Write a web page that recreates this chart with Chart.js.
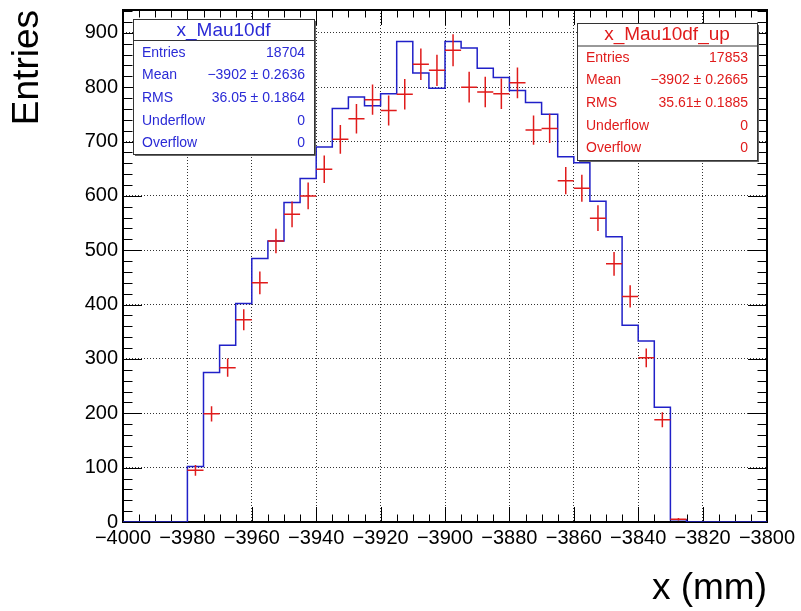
<!DOCTYPE html>
<html>
<head>
<meta charset="utf-8">
<script src="https://cdn.jsdelivr.net/npm/chart.js@4"></script>
<style>
  html, body { margin: 0; padding: 0; background: #fff; }
  #wrap { width: 801px; height: 611px; }
</style>
</head>
<body>
<div id="wrap"><canvas id="chart" width="801" height="611"></canvas></div>
<script>
// Histogram binning (5 mm bins), lower edges
const binLowEdges = [
  -4000, -3995, -3990, -3985, -3980, -3975, -3970, -3965, -3960, -3955,
  -3950, -3945, -3940, -3935, -3930, -3925, -3920, -3915, -3910, -3905,
  -3900, -3895, -3890, -3885, -3880, -3875, -3870, -3865, -3860, -3855,
  -3850, -3845, -3840, -3835, -3830, -3825, -3820, -3815, -3810, -3805
];
const binUpperEdge = -3800;

// x_Mau10df (blue outline)
const blueCounts = [
  0, 0, 0, 0, 102, 275, 325, 402, 485, 517,
  588, 632, 690, 761, 782, 766, 788, 884, 826, 798,
  884, 872, 835, 818, 794, 772, 750, 672, 661, 590,
  525, 362, 333, 211, 4, 0, 0, 0, 0, 0
];

// x_Mau10df_up (red points with errors)
const redCounts = [
  0, 0, 0, 0, 95, 199, 284, 372, 440, 517,
  566, 600, 649, 704, 742, 777, 757, 787, 842, 831,
  868, 800, 791, 788, 808, 721, 724, 628, 614, 559,
  475, 415, 302, 188, 5, 0, 0, 0, 0, 0
];

// Stats boxes
const statLabels = ['Entries', 'Mean', 'RMS', 'Underflow', 'Overflow'];
const blueStats = ['18704', '\u22123902 \u00b1 0.2636', '36.05 \u00b1 0.1864', '0', '0'];
const redStats = ['17853', '\u22123902 \u00b1 0.2665', '35.61\u00b1 0.1885', '0', '0'];

const xTitle = 'x (mm)';
const yTitle = 'Entries';

const BLUE = '#2020c8';
const BLUE_TEXT = '#2a2ad6';
const RED = '#e01b1b';
const FONT = '"Liberation Sans", Arial, Helvetica, sans-serif';

const fmtTick = (v) => (v < 0 ? '\u2212' + Math.abs(v) : String(v));

// blue histogram outline as stepped line over bin edges
const bluePoints = binLowEdges.map((x, i) => ({ x, y: blueCounts[i] }));
bluePoints.push({ x: binUpperEdge, y: 0 });

// red error crosses: horizontal = bin width, vertical = sqrt(N)
const redCross = [];
binLowEdges.forEach((lo, i) => {
  const n = redCounts[i];
  if (!n) return;
  const hi = i + 1 < binLowEdges.length ? binLowEdges[i + 1] : binUpperEdge;
  const c = (lo + hi) / 2;
  const e = Math.sqrt(n);
  redCross.push({ x: lo, y: n }, { x: hi, y: n }, { x: c, y: null });
  redCross.push({ x: c, y: n - e }, { x: c, y: n + e }, { x: c, y: null });
});

// ROOT-like frame with inward ticks on all four sides
const rootFrame = {
  id: 'rootFrame',
  beforeDatasetsDraw(chart) {
    const { ctx, chartArea: a, scales: { x, y } } = chart;
    ctx.save();
    ctx.strokeStyle = '#000';
    ctx.lineWidth = 1;
    ctx.beginPath();
    for (let v = -4000; v <= -3800; v += 5) {
      const px = Math.round(x.getPixelForValue(v)) + 0.5;
      const len = v % 20 === 0 ? 15 : 7.5;
      ctx.moveTo(px, a.bottom); ctx.lineTo(px, a.bottom - len);
      ctx.moveTo(px, a.top); ctx.lineTo(px, a.top + len);
    }
    for (let v = 0; v <= y.max; v += 20) {
      const py = Math.round(y.getPixelForValue(v)) + 0.5;
      const len = v % 100 === 0 ? 19 : 9.5;
      ctx.moveTo(a.left, py); ctx.lineTo(a.left + len, py);
      ctx.moveTo(a.right, py); ctx.lineTo(a.right - len, py);
    }
    ctx.stroke();
    ctx.lineWidth = 2;
    ctx.strokeRect(a.left, a.top, a.right - a.left, a.bottom - a.top);
    ctx.restore();
  },
  afterDraw(chart) {
    const ctx = chart.ctx;
    drawStats(ctx, { x: 133, y: 19, w: 181, h: 135, head: 21, color: BLUE_TEXT,
      title: 'x_Mau10df', values: blueStats, rowTop: 52.7 });
    drawStats(ctx, { x: 577, y: 23, w: 180, h: 137, head: 22.5, color: RED,
      title: 'x_Mau10df_up', values: redStats, rowTop: 57.7 });
  }
};

function drawStats(ctx, b) {
  ctx.save();
  ctx.fillStyle = '#666';
  ctx.fillRect(b.x + 2, b.y + 2, b.w, b.h);
  ctx.fillStyle = '#fff';
  ctx.fillRect(b.x, b.y, b.w, b.h);
  ctx.strokeStyle = '#333';
  ctx.lineWidth = 1;
  ctx.strokeRect(b.x + 0.5, b.y + 0.5, b.w, b.h);
  ctx.beginPath();
  ctx.moveTo(b.x, b.y + b.head + 0.5);
  ctx.lineTo(b.x + b.w, b.y + b.head + 0.5);
  ctx.stroke();

  ctx.fillStyle = b.color;
  ctx.textBaseline = 'middle';
  ctx.font = '19px ' + FONT;
  ctx.textAlign = 'center';
  ctx.fillText(b.title, b.x + b.w / 2, b.y + b.head / 2 + 1);

  ctx.font = '14px ' + FONT;
  statLabels.forEach((lab, i) => {
    const ty = b.rowTop + i * 22.7;
    ctx.textAlign = 'left';
    ctx.fillText(lab, b.x + 9, ty);
    ctx.textAlign = 'right';
    ctx.fillText(b.values[i], b.x + b.w - 9, ty);
  });
  ctx.restore();
}

const ctx = document.getElementById('chart').getContext('2d');
new Chart(ctx, {
  type: 'line',
  data: {
    datasets: [
      {
        label: 'x_Mau10df_up',
        data: redCross,
        borderColor: RED,
        borderWidth: 1.5,
        pointRadius: 0,
        spanGaps: false,
        fill: false
      },
      {
        label: 'x_Mau10df',
        data: bluePoints,
        borderColor: BLUE,
        borderWidth: 1.5,
        pointRadius: 0,
        stepped: 'before',
        fill: false
      }
    ]
  },
  options: {
    responsive: false,
    animation: false,
    events: [],
    layout: { padding: { top: 10, right: 34, left: 0, bottom: 0 } },
    plugins: {
      legend: { display: false },
      tooltip: { enabled: false }
    },
    scales: {
      x: {
        type: 'linear',
        min: -4000,
        max: -3800,
        ticks: {
          stepSize: 20,
          autoSkip: false,
          maxRotation: 0,
          padding: 4,
          color: '#000',
          font: { family: FONT, size: 20 },
          callback: fmtTick
        },
        grid: { color: 'rgba(0,0,0,0.8)', lineWidth: 1, drawTicks: false },
        border: { display: false, dash: [1, 2] },
        title: {
          display: true,
          text: xTitle,
          align: 'end',
          color: '#000',
          font: { family: FONT, size: 37 },
          padding: { top: 0, bottom: 0 }
        },
        afterFit: (s) => { s.height = 89; s.paddingLeft = 0; s.paddingRight = 0; }
      },
      y: {
        type: 'linear',
        min: 0,
        max: 942,
        ticks: {
          stepSize: 100,
          includeBounds: false,
          padding: 5,
          color: '#000',
          font: { family: FONT, size: 20 },
          callback: fmtTick
        },
        grid: { color: 'rgba(0,0,0,0.8)', lineWidth: 1, drawTicks: false },
        border: { display: false, dash: [1, 2] },
        title: {
          display: true,
          text: yTitle,
          align: 'end',
          color: '#000',
          font: { family: FONT, size: 37 },
          padding: { top: 6, bottom: 0 }
        },
        afterFit: (s) => { s.width = 123; s.paddingTop = 0; s.paddingBottom = 0; }
      }
    }
  },
  plugins: [rootFrame]
});
</script>
</body>
</html>
